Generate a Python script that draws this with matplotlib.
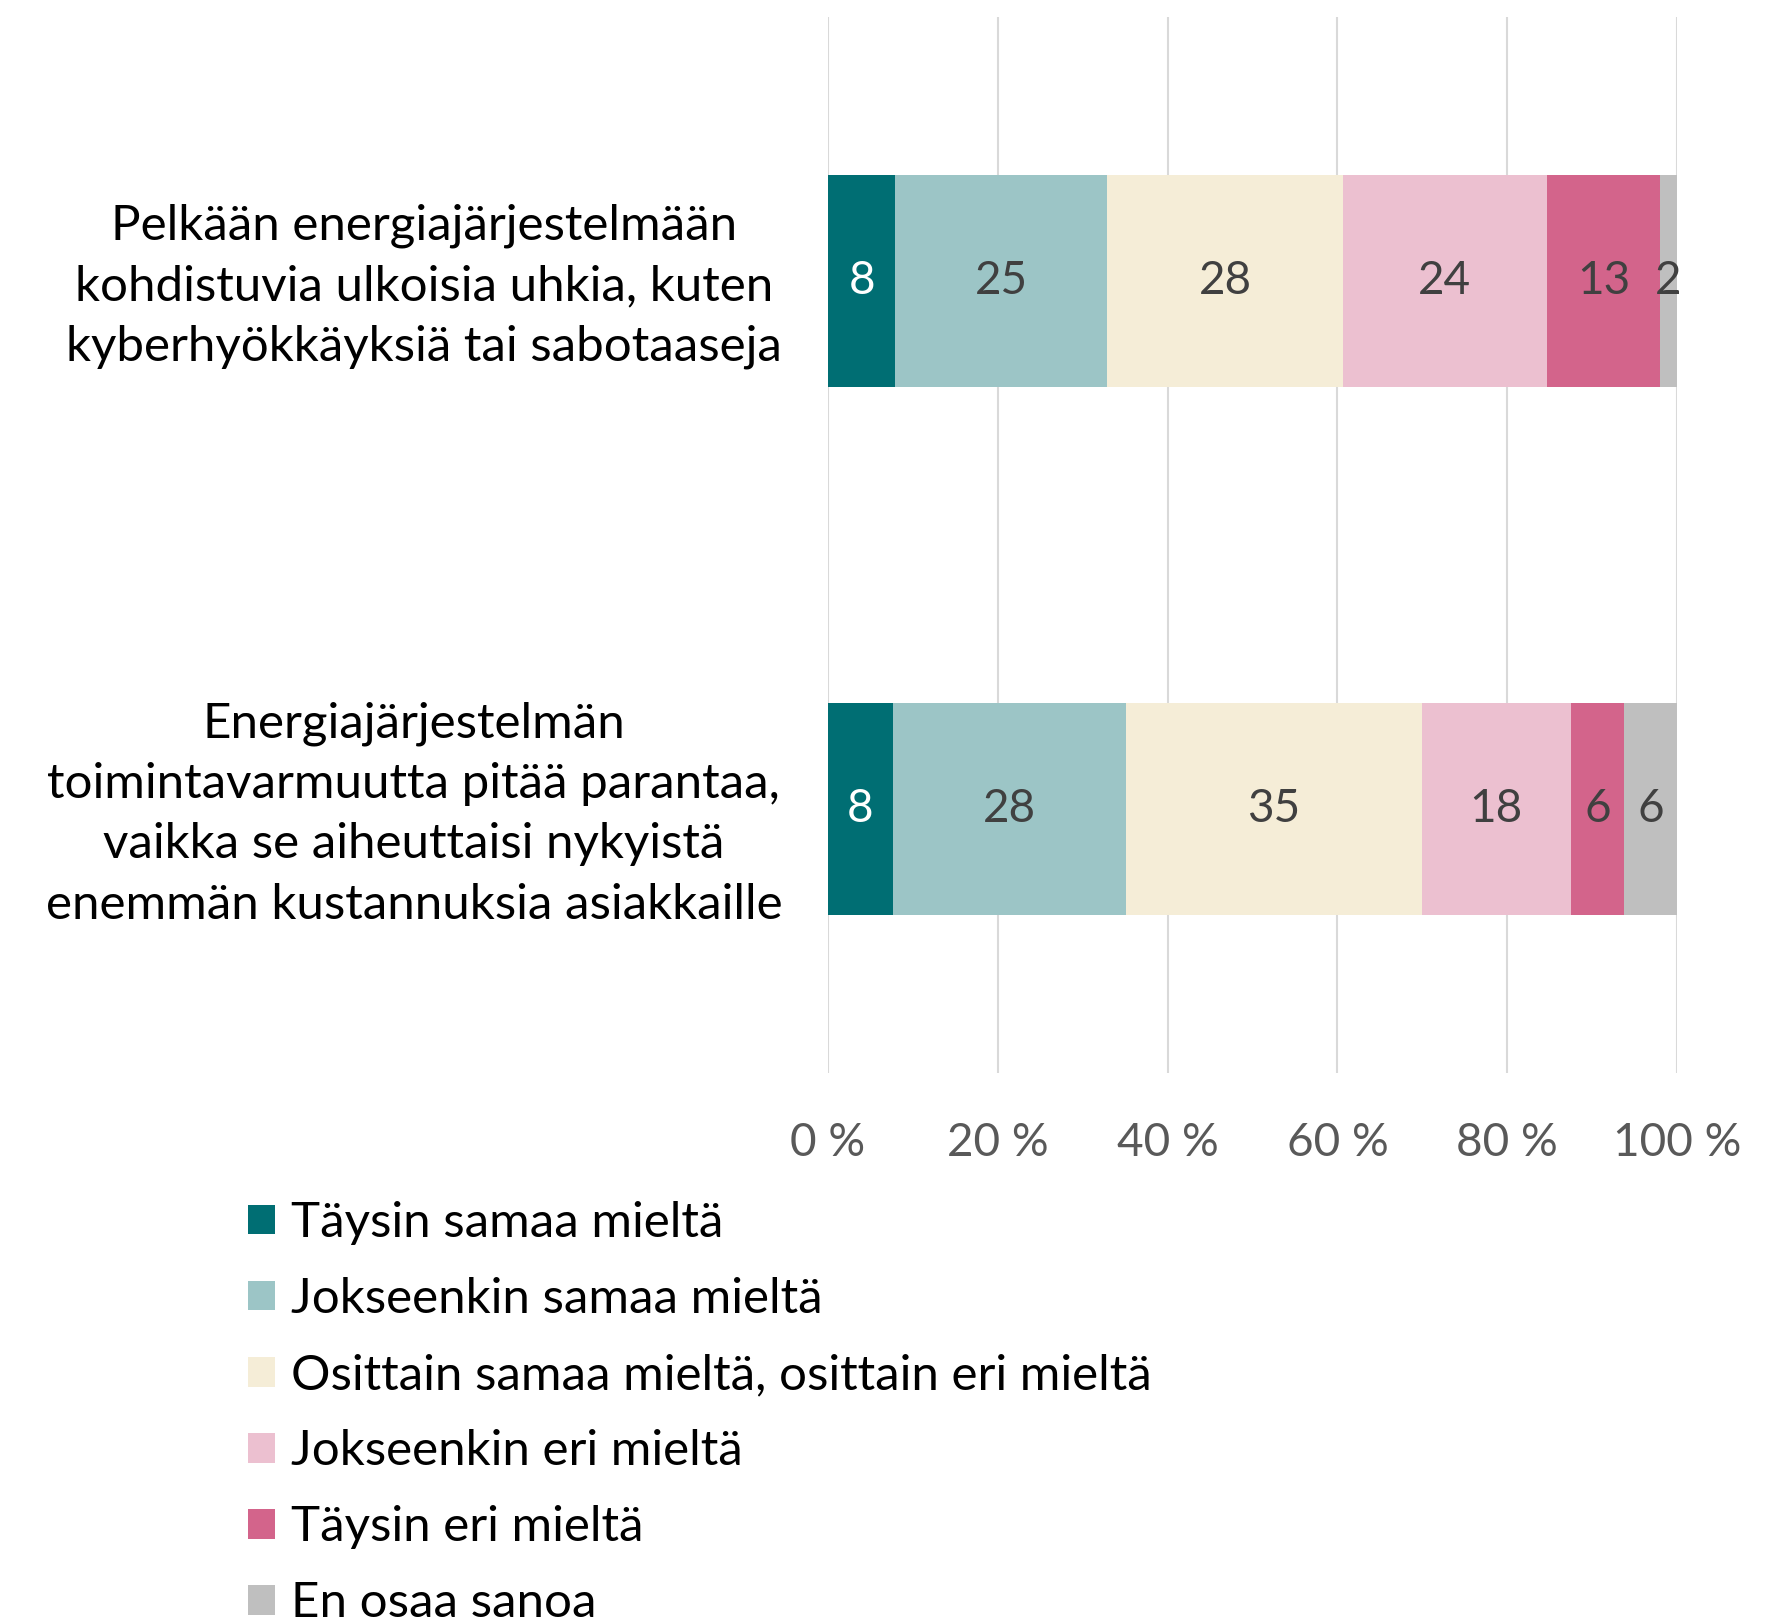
import matplotlib.pyplot as plt
import matplotlib.transforms as mtransforms

plt.rcParams['font.family'] = ['Lato', 'DejaVu Sans']

# Data (percent shares)
questions = [
    'Pelkään energiajärjestelmään\nkohdistuvia ulkoisia uhkia, kuten\nkyberhyökkäyksiä tai sabotaaseja',
    'Energiajärjestelmän\ntoimintavarmuutta pitää parantaa,\nvaikka se aiheuttaisi nykyistä\nenemmän kustannuksia asiakkaille',
]
answers = [
    'Täysin samaa mieltä',
    'Jokseenkin samaa mieltä',
    'Osittain samaa mieltä, osittain eri mieltä',
    'Jokseenkin eri mieltä',
    'Täysin eri mieltä',
    'En osaa sanoa',
]
q1_values = [7.9, 25.0, 27.7, 24.1, 13.3, 2.0]
q2_values = [7.6, 27.5, 34.8, 17.6, 6.3, 6.2]
q1_labels = [8, 25, 28, 24, 13, 2]
q2_labels = [8, 28, 35, 18, 6, 6]
ticks = [0, 20, 40, 60, 80, 100]
tick_labels = ['0 %', '20 %', '40 %', '60 %', '80 %', '100 %']

colors = ['#006E73', '#9CC5C6', '#F5EDD7', '#ECC0D0', '#D3648B', '#BFBFBF']
label_colors = ['white', '#404040', '#404040', '#404040', '#404040', '#404040']

fig = plt.figure(figsize=(17.9, 16.23), dpi=100)
ax = fig.add_axes([0.4626, 0.3389, 0.4743, 0.6506])

values = [q1_values, q2_values]
labels = [q1_labels, q2_labels]
ypos = [0, 1]

lefts = [0, 0]
for k in range(len(answers)):
    seg = [values[i][k] for i in range(2)]
    bars = ax.barh(ypos, seg, left=lefts, height=0.4, color=colors[k],
                   label=answers[k], zorder=2)
    ax.bar_label(bars, labels=[str(labels[i][k]) for i in range(2)],
                 label_type='center', color=label_colors[k], fontsize=33)
    lefts = [lefts[i] + seg[i] for i in range(2)]

ax.set_xlim(0, 100)
ax.set_ylim(1.5, -0.5)
ax.set_xticks(ticks)
ax.set_xticklabels(tick_labels, fontsize=33, color='#595959')
ax.set_yticks(ypos)
ax.set_yticklabels(questions, fontsize=35.5, color='black', ma='center',
                   linespacing=1.45)
ax.tick_params(axis='both', length=0)
ax.tick_params(axis='x', pad=35)
ax.tick_params(axis='y', pad=33)
ax.grid(axis='x', color='#D9D9D9', linewidth=1.5, zorder=0)
for s in ax.spines.values():
    s.set_visible(False)

# nudge the category labels up a little
shift = mtransforms.ScaledTranslation(0, 7 / 100, fig.dpi_scale_trans)
for lab in ax.get_yticklabels():
    lab.set_transform(lab.get_transform() + shift)

fig.legend(loc='upper left', bbox_to_anchor=(0.1384, 0.26), frameon=False,
           fontsize=35.5, handlelength=0.55, handleheight=0.55,
           handletextpad=0.33, labelspacing=0.65, borderaxespad=0, borderpad=0)

fig.savefig('out.png', dpi=100)
